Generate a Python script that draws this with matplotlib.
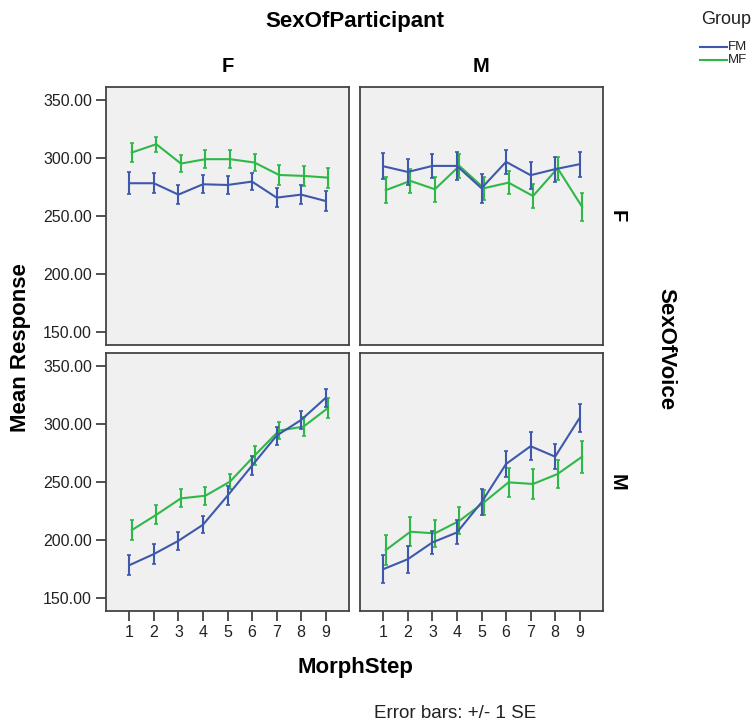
import numpy as np
import matplotlib
matplotlib.use("Agg")
import matplotlib.pyplot as plt
from matplotlib.lines import Line2D

plt.rcParams['font.family'] = ['Liberation Sans', 'DejaVu Sans']

# 数据
morph_steps = [1, 2, 3, 4, 5, 6, 7, 8, 9]
groups = ['FM', 'MF']
participant_levels = ['F', 'M']
voice_levels = ['F', 'M']

# voice F, participant F
fm_ff = [278.2, 278.2, 268.4, 277.3, 276.7, 279.6, 265.8, 268.4, 262.9]
fm_ff_se = [9.3, 8.8, 7.9, 7.9, 7.9, 7.3, 8.2, 7.9, 8.5]
mf_ff = [304.6, 311.8, 295.1, 298.9, 298.9, 296.0, 285.3, 284.5, 283.0]
mf_ff_se = [8.2, 6.3, 7.2, 7.5, 7.8, 7.5, 8.6, 8.5, 8.6]

# voice F, participant M
fm_fm = [292.8, 287.9, 293.1, 293.1, 273.9, 296.6, 285.1, 290.3, 294.6]
fm_fm_se = [11.2, 11.5, 10.3, 12.4, 12.6, 10.2, 11.5, 10.8, 10.9]
mf_fm = [272.2, 280.2, 273.0, 293.1, 273.9, 278.7, 267.2, 291.1, 257.8]
mf_fm_se = [11.2, 10.3, 10.8, 10.3, 10.0, 10.0, 10.0, 10.0, 11.8]

# voice M, participant F
fm_mf = [178.4, 188.0, 199.4, 213.2, 238.2, 264.1, 289.9, 303.4, 322.4]
fm_mf_se = [8.6, 8.3, 7.6, 7.2, 8.0, 7.9, 7.8, 7.8, 7.9]
mf_mf = [208.6, 221.8, 235.9, 238.2, 250.3, 272.7, 294.2, 297.7, 313.8]
mf_mf_se = [8.6, 8.2, 7.8, 7.9, 6.5, 7.9, 7.6, 8.2, 8.5]

# voice M, participant M
fm_mm = [175.0, 183.6, 198.0, 206.6, 232.5, 265.5, 280.8, 271.8, 305.2]
fm_mm_se = [12.2, 11.5, 10.0, 10.3, 11.2, 11.5, 11.9, 10.9, 11.8]
mf_mm = [191.4, 207.2, 205.8, 216.6, 232.5, 249.7, 248.3, 256.9, 271.8]
mf_mm_se = [12.9, 12.6, 11.8, 11.5, 10.5, 12.5, 12.5, 12.2, 13.9]

y_ticks = [150, 200, 250, 300, 350]

colors = {'FM': '#3E58AC', 'MF': '#2EB848'}

panels = {
    (0, 0): {'FM': (fm_ff, fm_ff_se), 'MF': (mf_ff, mf_ff_se)},
    (0, 1): {'FM': (fm_fm, fm_fm_se), 'MF': (mf_fm, mf_fm_se)},
    (1, 0): {'FM': (fm_mf, fm_mf_se), 'MF': (mf_mf, mf_mf_se)},
    (1, 1): {'FM': (fm_mm, fm_mm_se), 'MF': (mf_mm, mf_mm_se)},
}

W, H = 754, 726
fig = plt.figure(figsize=(W / 100, H / 100), dpi=100)

lefts = [106, 360]
tops = [87, 353]
pw, ph = 243, 258

for (r, c), series in panels.items():
    ax = fig.add_axes([lefts[c] / W, 1 - (tops[r] + ph) / H, pw / W, ph / H])
    ax.set_facecolor('#F0F0F0')
    for g in groups:
        vals, se = series[g]
        # 绿线稍微向右偏移，和原图一致
        off = 0.1 if g == 'MF' else 0.0
        x = np.array(morph_steps) + off
        ax.errorbar(x, vals, yerr=se, color=colors[g], lw=1.5, elinewidth=1.5,
                    capsize=1.6, capthick=1.2, zorder=3 if g == 'FM' else 2)
    ax.set_xlim(0.05, 9.95)
    ax.set_ylim(139, 361)
    for s in ax.spines.values():
        s.set_color('#444444')
        s.set_linewidth(1.3)
    ax.tick_params(direction='out', length=7, width=1.2, color='#333333',
                   labelsize=11.5, labelcolor='#222222', pad=3)
    if c == 0:
        ax.set_yticks(y_ticks)
        ax.set_yticklabels(['%.2f' % v for v in y_ticks])
    else:
        ax.set_yticks([])
    if r == 1:
        ax.set_xticks(morph_steps)
        ax.set_xticklabels([str(v) for v in morph_steps])
    else:
        ax.set_xticks([])
    if r == 0:
        ax.text(0.5, 1.078, participant_levels[c], transform=ax.transAxes,
                ha='center', va='center', fontsize=14.5, fontweight='bold')
    if c == 1:
        ax.text(1.06, 0.5, voice_levels[r], transform=ax.transAxes, rotation=-90,
                ha='center', va='center', fontsize=14.5, fontweight='bold')

fig.text(355 / W, 1 - 22 / H, 'SexOfParticipant', ha='center', va='center',
         fontsize=16, fontweight='bold')
fig.text(666 / W, 1 - 349 / H, 'SexOfVoice', ha='center', va='center',
         fontsize=16, fontweight='bold', rotation=-90)
fig.text(21 / W, 1 - 348 / H, 'Mean Response', ha='center', va='center',
         fontsize=16, fontweight='bold', rotation=90)
fig.text(355 / W, 1 - 668 / H, 'MorphStep', ha='center', va='center',
         fontsize=16, fontweight='bold')
fig.text(455 / W, 1 - 713 / H, 'Error bars: +/- 1 SE', ha='center', va='center',
         fontsize=13.5, color='#222222')

# 图例（手动画）
fig.text(751 / W, 1 - 20 / H, 'Group', ha='right', va='center',
         fontsize=13, color='#222222')
for i, g in enumerate(groups):
    yy = 1 - (47 + 13 * i) / H
    fig.add_artist(Line2D([700 / W, 727 / W], [yy, yy], color=colors[g], lw=1.5,
                          transform=fig.transFigure))
    fig.text(728 / W, yy, g, ha='left', va='center', fontsize=9.5, color='#222222')

fig.savefig('out.png', dpi=100)
